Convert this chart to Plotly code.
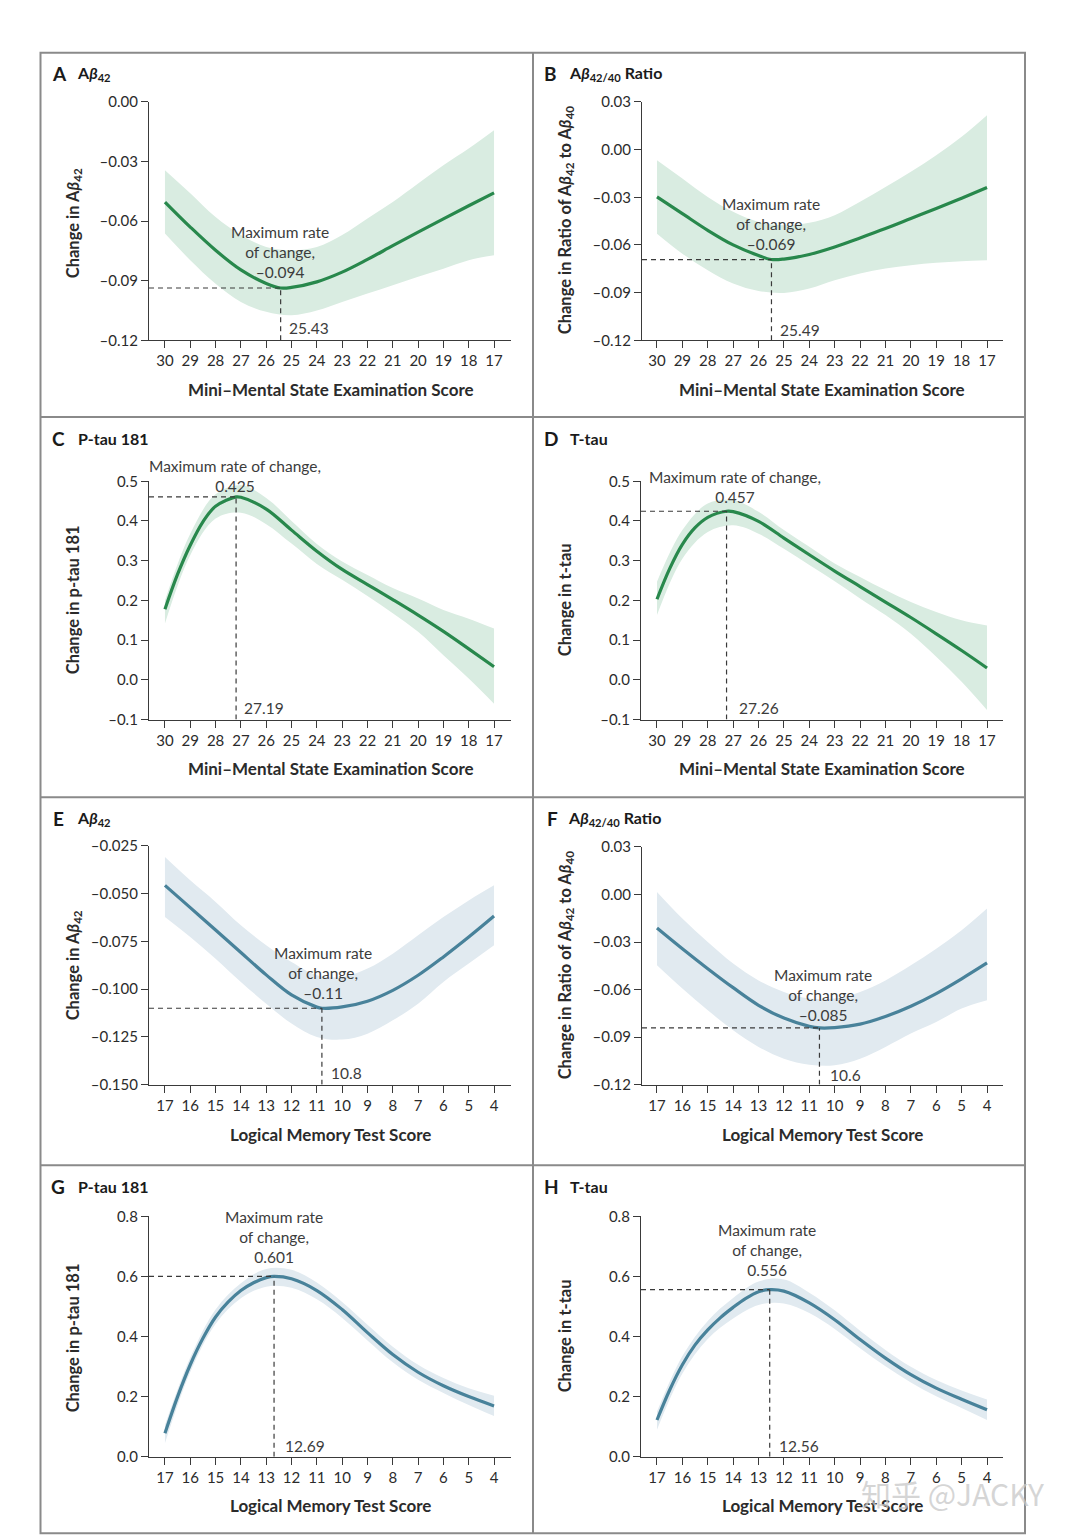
import plotly.graph_objects as go

# the viewer places the figure 8 px right / 18 px down and rescales height by ~0.988;
# positions below are given in target pixels and converted through fx/fy
OX, OY, SY = 8, 18, 0.9882
W, H = 1072, 1539

# ---------------- data ----------------
mmse_ticks = [30, 29, 28, 27, 26, 25, 24, 23, 22, 21, 20, 19, 18, 17]
lmt_ticks = [17, 16, 15, 14, 13, 12, 11, 10, 9, 8, 7, 6, 5, 4]

# Panel A: Abeta42 vs MMSE
a_x = [30, 29, 28, 27, 26, 25.43, 25, 24, 23, 22, 21, 20, 19, 18, 17]
a_y = [-0.0504, -0.0630, -0.0747, -0.0846, -0.0914, -0.0937, -0.0934, -0.0906, -0.0857,
       -0.0793, -0.0724, -0.0656, -0.0589, -0.0523, -0.0458]
a_hi = [-0.0344, -0.0460, -0.0580, -0.0670, -0.0730, -0.0747, -0.0730, -0.0670, -0.0587,
        -0.0504, -0.0411, -0.0319, -0.0235, -0.0143]
a_lo = [-0.0663, -0.0797, -0.0915, -0.1007, -0.1057, -0.1074, -0.1050, -0.1007, -0.0965,
        -0.0923, -0.0880, -0.0840, -0.0797, -0.0772]

# Panel B: Abeta42/40 ratio vs MMSE
b_x = [30, 29, 28, 27, 26, 25.49, 25, 24, 23, 22, 21, 20, 19, 18, 17]
b_y = [-0.0298, -0.0403, -0.0508, -0.0600, -0.0667, -0.0692, -0.0689, -0.0660, -0.0613,
       -0.0556, -0.0497, -0.0434, -0.0371, -0.0306, -0.0239]
b_hi = [-0.0067, -0.0182, -0.0298, -0.0392, -0.0455, -0.0476, -0.0461, -0.0413, -0.0329,
        -0.0235, -0.0140, -0.0036, 0.0080, 0.0216]
b_lo = [-0.0529, -0.0655, -0.0759, -0.0843, -0.0890, -0.0902, -0.0875, -0.0822, -0.0780,
        -0.0749, -0.0728, -0.0713, -0.0703, -0.0696]

# Panel C: P-tau 181 vs MMSE
c_x = [30, 29.5, 29, 28.5, 28, 27.19, 27, 26, 25, 24, 23, 22, 21, 20, 19, 18, 17]
c_y = [0.178, 0.266, 0.339, 0.398, 0.437, 0.4606, 0.4597, 0.430, 0.377, 0.324, 0.278, 0.240,
       0.202, 0.163, 0.122, 0.078, 0.033]
c_hi = [0.200, 0.368, 0.467, 0.490, 0.458, 0.400, 0.342, 0.298, 0.264, 0.231, 0.205, 0.176,
        0.154, 0.129]
c_lo = [0.142, 0.314, 0.406, 0.421, 0.392, 0.343, 0.292, 0.252, 0.211, 0.168, 0.121, 0.062,
        0.0032, -0.060]

# Panel D: T-tau vs MMSE
d_x = [30, 29.5, 29, 28.5, 28, 27.26, 27, 26, 25, 24, 23, 22, 21, 20, 19, 18, 17]
d_y = [0.203, 0.280, 0.341, 0.383, 0.409, 0.4245, 0.4235, 0.399, 0.357, 0.315, 0.274, 0.235,
       0.196, 0.157, 0.116, 0.074, 0.030]
d_hi = [0.247, 0.377, 0.444, 0.452, 0.423, 0.377, 0.335, 0.293, 0.259, 0.226, 0.196, 0.171,
        0.150, 0.137]
d_lo = [0.163, 0.305, 0.372, 0.389, 0.368, 0.330, 0.289, 0.248, 0.205, 0.163, 0.116, 0.058,
        -0.005, -0.076]

# Panel E: Abeta42 vs Logical Memory
e_x = [17, 16, 15, 14, 13, 12, 11, 10.8, 10, 9, 8, 7, 6, 5, 4]
e_y = [-0.0456, -0.0573, -0.0690, -0.0808, -0.0925, -0.1030, -0.1094, -0.1100, -0.1093,
       -0.1063, -0.1006, -0.0927, -0.0831, -0.0727, -0.0617]
e_hi = [-0.0308, -0.0430, -0.0543, -0.0665, -0.0770, -0.0858, -0.0927, -0.0936, -0.0892,
        -0.0814, -0.0718, -0.0622, -0.0535, -0.0456]
e_lo = [-0.0622, -0.0727, -0.0840, -0.0962, -0.1076, -0.1180, -0.1250, -0.1264, -0.1233,
        -0.1163, -0.1076, -0.0962, -0.0866, -0.0770]

# Panel F: Abeta42/40 ratio vs Logical Memory
f_x = [17, 16, 15, 14, 13, 12, 11, 10.6, 10, 9, 8, 7, 6, 5, 4]
f_y = [-0.0211, -0.0342, -0.0468, -0.0588, -0.0699, -0.0780, -0.0832, -0.0842, -0.0840,
       -0.0818, -0.0770, -0.0705, -0.0625, -0.0532, -0.0432]
f_hi = [0.0016, -0.0152, -0.0300, -0.0436, -0.0542, -0.0615, -0.0657, -0.0657, -0.0615,
        -0.0542, -0.0447, -0.0342, -0.0226, -0.0089]
f_lo = [-0.0447, -0.0594, -0.0731, -0.0857, -0.0962, -0.1036, -0.1074, -0.1078, -0.1036,
        -0.0962, -0.0878, -0.0805, -0.0720, -0.0668]

# Panel G: P-tau 181 vs Logical Memory
g_x = [17, 16.5, 16, 15.5, 15, 14.5, 14, 13.5, 13, 12.69, 12, 11, 10, 9, 8, 7, 6, 5, 4]
g_y = [0.078, 0.200, 0.306, 0.394, 0.465, 0.515, 0.553, 0.579, 0.596, 0.600, 0.592, 0.553,
       0.490, 0.413, 0.340, 0.281, 0.236, 0.200, 0.169]
g_hi = [0.105, 0.330, 0.490, 0.577, 0.625, 0.622, 0.580, 0.515, 0.439, 0.366, 0.306, 0.262,
        0.228, 0.203]
g_lo = [0.045, 0.282, 0.442, 0.527, 0.566, 0.562, 0.524, 0.462, 0.387, 0.314, 0.256, 0.212,
        0.172, 0.135]

# Panel H: T-tau vs Logical Memory
h_x = [17, 16.5, 16, 15.5, 15, 14.5, 14, 13.5, 13, 12.56, 12, 11, 10, 9, 8, 7, 6, 5, 4]
h_y = [0.122, 0.222, 0.306, 0.372, 0.422, 0.463, 0.497, 0.527, 0.549, 0.556, 0.551, 0.512,
       0.456, 0.390, 0.328, 0.273, 0.228, 0.191, 0.156]
h_hi = [0.150, 0.335, 0.452, 0.528, 0.583, 0.590, 0.546, 0.487, 0.419, 0.355, 0.299, 0.255,
        0.220, 0.190]
h_lo = [0.090, 0.277, 0.392, 0.460, 0.505, 0.510, 0.478, 0.425, 0.361, 0.301, 0.247, 0.201,
        0.162, 0.122]

peak_x = [25.43, 25.49, 27.19, 27.26, 10.8, 10.6, 12.69, 12.56]
peak_y = [-0.0937, -0.0692, 0.4606, 0.4245, -0.1100, -0.0842, 0.600, 0.556]
peak_label = ["Maximum rate<br>of change,<br>–0.094",
              "Maximum rate<br>of change,<br>–0.069",
              "Maximum rate of change,<br>0.425",
              "Maximum rate of change,<br>0.457",
              "Maximum rate<br>of change,<br>–0.11",
              "Maximum rate<br>of change,<br>–0.085",
              "Maximum rate<br>of change,<br>0.601",
              "Maximum rate<br>of change,<br>0.556"]
peak_x_label = ["25.43", "25.49", "27.19", "27.26", "10.8", "10.6", "12.69", "12.56"]

yt_ab42_mmse = [-0.12, -0.09, -0.06, -0.03, 0.00]
yl_ab42_mmse = ["–0.12", "–0.09", "–0.06", "–0.03", "0.00"]
yt_ratio = [-0.12, -0.09, -0.06, -0.03, 0.00, 0.03]
yl_ratio = ["–0.12", "–0.09", "–0.06", "–0.03", "0.00", "0.03"]
yt_tau_mmse = [-0.1, 0.0, 0.1, 0.2, 0.3, 0.4, 0.5]
yl_tau_mmse = ["–0.1", "0.0", "0.1", "0.2", "0.3", "0.4", "0.5"]
yt_ab42_lmt = [-0.150, -0.125, -0.100, -0.075, -0.050, -0.025]
yl_ab42_lmt = ["–0.150", "–0.125", "–0.100", "–0.075", "–0.050", "–0.025"]
yt_tau_lmt = [0.0, 0.2, 0.4, 0.6, 0.8]
yl_tau_lmt = ["0.0", "0.2", "0.4", "0.6", "0.8"]

letters = ["A", "B", "C", "D", "E", "F", "G", "H"]
titles = ["A<i>β</i><sub>42</sub>", "A<i>β</i><sub>42/40</sub> Ratio", "P-tau 181", "T-tau",
          "A<i>β</i><sub>42</sub>", "A<i>β</i><sub>42/40</sub> Ratio", "P-tau 181", "T-tau"]
ytitles = ["Change in A<i>β</i><sub>42</sub>",
           "Change in Ratio of A<i>β</i><sub>42</sub> to A<i>β</i><sub>40</sub>",
           "Change in p-tau 181", "Change in t-tau",
           "Change in A<i>β</i><sub>42</sub>",
           "Change in Ratio of A<i>β</i><sub>42</sub> to A<i>β</i><sub>40</sub>",
           "Change in p-tau 181", "Change in t-tau"]
xtitles = ["Mini–Mental State Examination Score"] * 4 + ["Logical Memory Test Score"] * 4

# ---------------- styling / layout ----------------
GREEN, GREEN_BAND = "#28884c", "#d9ece1"
BLUE, BLUE_BAND = "#48829a", "#e1eaf0"
FONT = "Lato, 'Open Sans', sans-serif"
TXT = "#2b2b2b"


def fx(p):
    return (p - OX) / W


def fy(p):
    return 1 - (p / SY - OY) / H


series = [
    (a_x, a_y, mmse_ticks, a_lo, a_hi, mmse_ticks, yt_ab42_mmse, yl_ab42_mmse, [-0.12, 0.0], [30.63, 16.33]),
    (b_x, b_y, mmse_ticks, b_lo, b_hi, mmse_ticks, yt_ratio, yl_ratio, [-0.12, 0.03], [30.59, 16.37]),
    (c_x, c_y, mmse_ticks, c_lo, c_hi, mmse_ticks, yt_tau_mmse, yl_tau_mmse, [-0.1, 0.5], [30.63, 16.33]),
    (d_x, d_y, mmse_ticks, d_lo, d_hi, mmse_ticks, yt_tau_mmse, yl_tau_mmse, [-0.1, 0.5], [30.63, 16.37]),
    (e_x, e_y, lmt_ticks, e_lo, e_hi, lmt_ticks, yt_ab42_lmt, yl_ab42_lmt, [-0.150, -0.025], [17.63, 3.33]),
    (f_x, f_y, lmt_ticks, f_lo, f_hi, lmt_ticks, yt_ratio, yl_ratio, [-0.12, 0.03], [17.59, 3.37]),
    (g_x, g_y, lmt_ticks, g_lo, g_hi, lmt_ticks, yt_tau_lmt, yl_tau_lmt, [0.0, 0.8], [17.63, 3.33]),
    (h_x, h_y, lmt_ticks, h_lo, h_hi, lmt_ticks, yt_tau_lmt, yl_tau_lmt, [0.0, 0.8], [17.63, 3.37]),
]

# plot-area boxes in target pixels: (left, right, top, bottom)
boxes = [(149, 511, 101.7, 340), (642, 1003, 101.7, 340),
         (149, 511, 481, 719.3), (641, 1003, 481, 719.3),
         (149, 511, 845.7, 1084.3), (642, 1003, 846.7, 1084.3),
         (149, 511, 1216, 1456.3), (641, 1003, 1216, 1456.3)]
label_pos = [(280, 252), (771, 224), (235, 476), (735, 487),
             (323, 973), (823, 995), (274, 1237), (767, 1250)]
xlabel_pos = [(287, 328), (778, 330), (242, 708), (737, 708),
              (329, 1073), (828, 1075), (283, 1446), (777, 1446)]
ytitle_pos = [(73, 223), (565, 220), (73, 600), (565, 600),
              (73, 965), (565, 965), (73, 1338), (565, 1336)]
xtitle_pos = [(331, 389), (822, 389), (331, 768), (822, 768),
              (330, 1134), (822, 1134), (330, 1505), (822, 1505)]
head_y = [73, 73, 438, 438, 818, 818, 1186, 1186]
letter_x = [50, 542, 50, 542, 51, 545, 49, 542]
title_x = [75, 567, 76, 568, 75, 566, 76, 568]

fig = go.Figure()
layout = dict(width=W, height=H, margin=dict(l=0, r=0, t=0, b=0, pad=0),
              paper_bgcolor="white", plot_bgcolor="white", showlegend=False,
              font=dict(family=FONT, color=TXT), hovermode=False)
annotations, shapes = [], []

for i, (sx, sy, bx, lo, hi, xt, yv, ytxt, yr, xr) in enumerate(series):
    n = "" if i == 0 else str(i + 1)
    xa, ya = "x" + n, "y" + n
    col, band = (GREEN, GREEN_BAND) if i < 4 else (BLUE, BLUE_BAND)
    fig.add_trace(go.Scatter(x=bx, y=lo, mode="lines", line=dict(width=0, shape="spline", color=band),
                             xaxis=xa, yaxis=ya, hoverinfo="skip"))
    fig.add_trace(go.Scatter(x=bx, y=hi, mode="lines", line=dict(width=0, shape="spline", color=band),
                             fill="tonexty", fillcolor=band, xaxis=xa, yaxis=ya, hoverinfo="skip"))
    fig.add_trace(go.Scatter(x=sx, y=sy, mode="lines", line=dict(width=3.2, shape="spline", color=col),
                             xaxis=xa, yaxis=ya, hoverinfo="skip"))
    l, r, t, b = boxes[i]
    axis_common = dict(showline=True, linecolor="#3a3a3a", linewidth=1.3, ticks="outside",
                       ticklen=7, tickwidth=1.3, tickcolor="#3a3a3a", showgrid=False,
                       zeroline=False, tickfont=dict(size=15, color=TXT, family=FONT))
    layout["xaxis" + n] = dict(axis_common, domain=[fx(l), fx(r)], range=xr, anchor=ya,
                               tickvals=xt, ticktext=[str(v) for v in xt])
    layout["yaxis" + n] = dict(axis_common, domain=[fy(b), fy(t)], range=yr, anchor=xa,
                               tickvals=yv, ticktext=ytxt)
    # dashed guide lines to the peak
    dash = dict(color="#3a3a3a", width=1.2, dash="5px,4px")
    shapes.append(dict(type="line", xref=xa, yref=ya, x0=xr[0], x1=peak_x[i],
                       y0=peak_y[i], y1=peak_y[i], line=dash, layer="above"))
    shapes.append(dict(type="line", xref=xa, yref=ya, x0=peak_x[i], x1=peak_x[i],
                       y0=yr[0], y1=peak_y[i], line=dash, layer="above"))
    # text
    lx, ly = label_pos[i]
    annotations.append(dict(text=peak_label[i], x=fx(lx), y=fy(ly), xref="paper", yref="paper",
                            xanchor="center", yanchor="middle", showarrow=False,
                            font=dict(size=15.5, color="#3c3c3c", family=FONT)))
    px_, py_ = xlabel_pos[i]
    annotations.append(dict(text=peak_x_label[i], x=fx(px_), y=fy(py_), xref="paper", yref="paper",
                            xanchor="left", yanchor="middle", showarrow=False,
                            font=dict(size=15.5, color="#3c3c3c", family=FONT)))
    tx, ty = ytitle_pos[i]
    annotations.append(dict(text="<b>" + ytitles[i] + "</b>", x=fx(tx), y=fy(ty), xref="paper",
                            yref="paper", textangle=-90, xanchor="center", yanchor="middle",
                            showarrow=False, font=dict(size=16.5, color=TXT, family=FONT)))
    tx, ty = xtitle_pos[i]
    annotations.append(dict(text="<b>" + xtitles[i] + "</b>", x=fx(tx), y=fy(ty), xref="paper",
                            yref="paper", xanchor="center", yanchor="middle", showarrow=False,
                            font=dict(size=17, color=TXT, family=FONT)))
    annotations.append(dict(text="<b>" + letters[i] + "</b>", x=fx(letter_x[i]), y=fy(head_y[i]),
                            xref="paper", yref="paper", xanchor="left", yanchor="middle",
                            showarrow=False, font=dict(size=19, color="#1a1a1a", family=FONT)))
    annotations.append(dict(text="<b>" + titles[i] + "</b>", x=fx(title_x[i]), y=fy(head_y[i]),
                            xref="paper", yref="paper", xanchor="left", yanchor="middle",
                            showarrow=False, font=dict(size=16, color="#1a1a1a", family=FONT)))

# panel frame
frame = dict(color="#8a8a8a", width=2)
shapes.append(dict(type="rect", xref="paper", yref="paper", x0=fx(40.5), x1=fx(1025),
                   y0=fy(1533), y1=fy(52.5), line=frame))
shapes.append(dict(type="line", xref="paper", yref="paper", x0=fx(533), x1=fx(533),
                   y0=fy(1533), y1=fy(52.5), line=frame))
for yy in (416.7, 797, 1165):
    shapes.append(dict(type="line", xref="paper", yref="paper", x0=fx(40.5), x1=fx(1025),
                       y0=fy(yy), y1=fy(yy), line=frame))

# watermark
annotations.append(dict(text="知乎 @JACKY", x=fx(952), y=fy(1493), xref="paper", yref="paper",
                        xanchor="center", yanchor="middle", showarrow=False,
                        font=dict(size=30, color="rgba(200,200,200,0.75)",
                                  family="'Noto Sans CJK SC', 'Noto Sans', sans-serif")))

layout["annotations"] = annotations
layout["shapes"] = shapes
fig.update_layout(**layout)
fig.write_html("out.html")
